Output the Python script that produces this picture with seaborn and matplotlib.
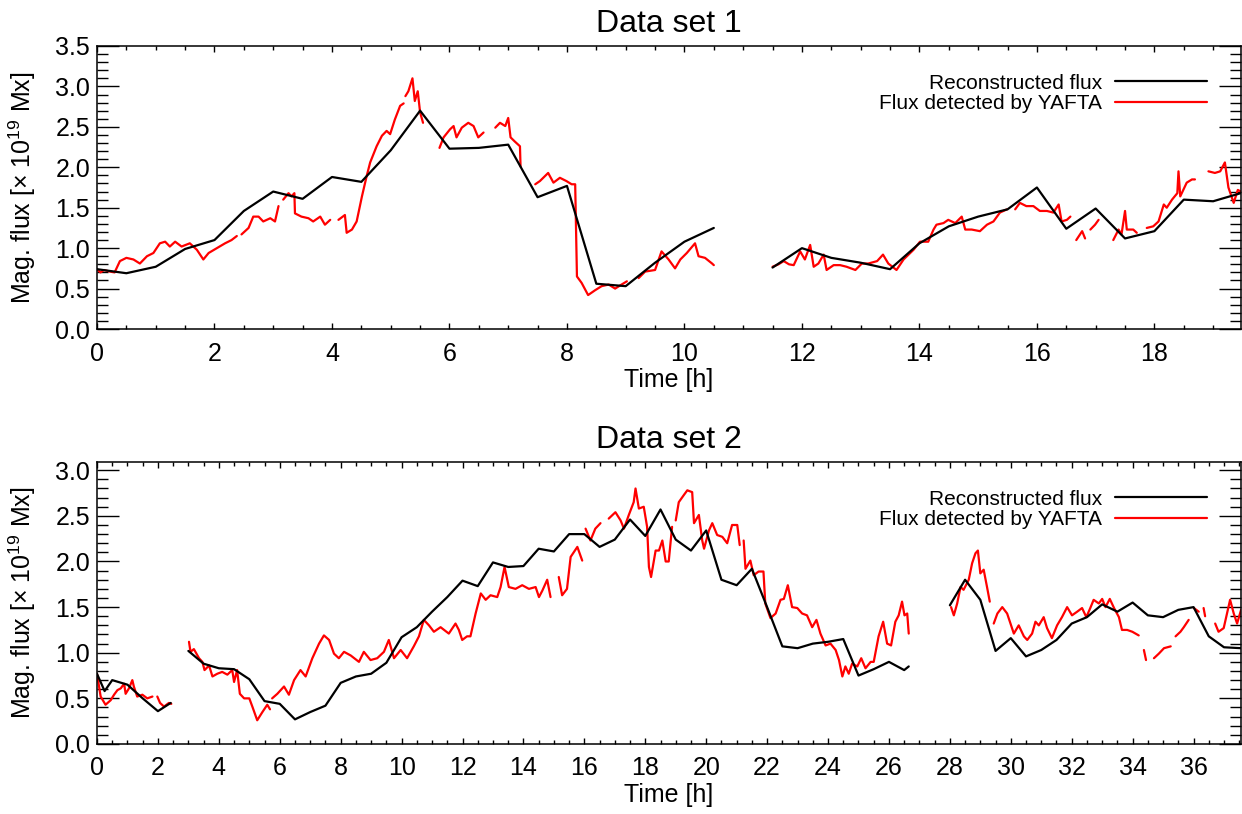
import pandas as pd
import seaborn as sns
import matplotlib.pyplot as plt
from matplotlib.lines import Line2D
from matplotlib.ticker import MultipleLocator

# Data set 1: reconstructed flux (black) and YAFTA flux (red); None marks a gap
top_rec_t = [0.0, 0.5, 1.0, 1.5, 2.0, 2.5, 3.0, 3.5, 4.0, 4.5, 5.0, 5.5, 6.0, 6.5, 7.0, 7.5,
             8.0, 8.5, 9.0, 9.5, 10.0, 10.5, 11.0,
             11.5, 12.0, 12.5, 13.0, 13.5, 14.0, 14.5, 15.0, 15.5, 16.0, 16.5, 17.0, 17.5,
             18.0, 18.5, 19.0, 19.47]
top_rec_v = [0.74, 0.69, 0.77, 0.99, 1.10, 1.46, 1.70, 1.61, 1.88, 1.82, 2.21, 2.70, 2.23, 2.24, 2.28, 1.63,
             1.77, 0.56, 0.53, 0.82, 1.08, 1.25, None,
             0.76, 1.00, 0.88, 0.82, 0.74, 1.06, 1.27, 1.39, 1.48, 1.75, 1.24, 1.49, 1.12,
             1.21, 1.60, 1.58, 1.68]

top_yafta_t = [0.0, 0.06, 0.12, 0.22, 0.30, 0.39, 0.5, 0.62, 0.73, 0.85, 0.96, 1.07, 1.16, 1.24, 1.33,
               1.44, 1.58, 1.70, 1.81, 1.90, 2.04, 2.18, 2.29, 2.38, 2.42,
               2.46, 2.58, 2.66, 2.75, 2.83, 2.95, 3.03, 3.09, 3.13,
               3.17, 3.26, 3.31, 3.36, 3.37, 3.48, 3.60, 3.68, 3.80, 3.88, 3.97, 4.04,
               4.11, 4.22, 4.25, 4.34, 4.42, 4.51, 4.59, 4.65, 4.76, 4.85, 4.93, 4.99, 5.07, 5.16, 5.22, 5.24,
               5.25, 5.30, 5.37, 5.41, 5.46, 5.50, 5.55, 5.7,
               5.83, 5.90, 6.01, 6.07, 6.12, 6.21, 6.32, 6.41, 6.49, 6.58, 6.7,
               6.78, 6.86, 6.95, 7.00, 7.04, 7.11, 7.20, 7.21, 7.3,
               7.46, 7.54, 7.68, 7.77, 7.88, 7.99, 8.08, 8.14, 8.17, 8.25, 8.36, 8.48, 8.59, 8.71,
               8.82, 8.93, 9.02, 9.1,
               9.22, 9.33, 9.50, 9.61, 9.73, 9.84, 9.93, 10.04, 10.18, 10.24, 10.35, 10.47, 10.50, 11.0,
               11.5, 11.6, 11.69, 11.78, 11.86, 11.97, 12.05, 12.14, 12.20, 12.28, 12.37, 12.42, 12.54,
               12.65, 12.76, 12.91, 13.02, 13.13, 13.28, 13.38, 13.47, 13.61, 13.73, 13.90, 14.01,
               14.15, 14.24, 14.29, 14.41, 14.49, 14.61, 14.72, 14.78, 14.89, 15.03, 15.15, 15.26,
               15.37, 15.49, 15.56,
               15.63, 15.71, 15.82, 15.94, 16.05, 16.17, 16.28, 16.37, 16.42, 16.51, 16.57, 16.62,
               16.67, 16.77, 16.82, 16.86,
               16.91, 16.99, 17.05, 17.2,
               17.30, 17.39, 17.44, 17.50, 17.53, 17.64, 17.70, 17.8,
               17.87, 17.98, 18.07, 18.16, 18.21, 18.30, 18.39, 18.41, 18.44, 18.55, 18.64, 18.69, 18.8,
               18.92, 19.03, 19.12, 19.20, 19.26, 19.35, 19.42, 19.47]
top_yafta_v = [0.74, 0.70, 0.73, 0.71, 0.70, 0.84, 0.88, 0.86, 0.81, 0.90, 0.94, 1.06, 1.08, 1.02, 1.08,
               1.02, 1.06, 0.98, 0.86, 0.94, 1.00, 1.06, 1.10, 1.15, None,
               1.17, 1.25, 1.39, 1.39, 1.33, 1.37, 1.33, 1.52, None,
               1.60, 1.68, 1.64, 1.68, 1.43, 1.39, 1.37, 1.33, 1.39, 1.29, 1.35, None,
               1.35, 1.41, 1.19, 1.23, 1.33, 1.64, 1.89, 2.06, 2.26, 2.39, 2.45, 2.41, 2.59, 2.76, 2.79, None,
               2.88, 2.94, 3.10, 2.82, 2.94, 2.68, 2.55, None,
               2.24, 2.37, 2.47, 2.51, 2.37, 2.49, 2.55, 2.51, 2.37, 2.43, None,
               2.49, 2.55, 2.51, 2.61, 2.37, 2.32, 2.26, 2.01, None,
               1.79, 1.83, 1.93, 1.81, 1.87, 1.83, 1.79, 1.79, 0.65, 0.57, 0.42, 0.48, 0.53, 0.55,
               0.50, 0.55, 0.59, None,
               0.63, 0.71, 0.73, 0.96, 0.86, 0.75, 0.86, 0.94, 1.06, 0.90, 0.88, 0.81, 0.79, None,
               0.77, 0.80, 0.84, 0.80, 0.79, 0.96, 0.86, 1.04, 0.77, 0.81, 0.92, 0.73, 0.79,
               0.79, 0.77, 0.73, 0.81, 0.81, 0.84, 0.92, 0.81, 0.73, 0.86, 0.98, 1.08,
               1.08, 1.23, 1.29, 1.31, 1.35, 1.31, 1.39, 1.23, 1.23, 1.21, 1.29, 1.33,
               1.44, 1.48, None,
               1.48, 1.56, 1.52, 1.52, 1.46, 1.46, 1.44, 1.54, 1.33, 1.35, 1.39, None,
               1.10, 1.21, 1.12, None,
               1.23, 1.29, 1.35, None,
               1.10, 1.23, 1.17, 1.46, 1.23, 1.23, 1.19, None,
               1.25, 1.27, 1.33, 1.54, 1.50, 1.60, 1.68, 1.95, 1.64, 1.81, 1.85, 1.85, None,
               1.95, 1.93, 1.95, 2.06, 1.75, 1.56, 1.72, 1.70]

# Data set 2
bot_rec_t = [0.0, 0.25, 0.5, 1.0, 1.5, 2.0, 2.42, 2.7,
             3.0, 3.5, 4.0, 4.5, 5.0, 5.5, 6.0, 6.5, 7.0, 7.5, 8.0, 8.5, 9.0, 9.5, 10.0, 10.5,
             11.0, 11.5, 12.0, 12.5, 13.0, 13.5, 14.0, 14.5, 15.0, 15.5, 16.0, 16.5, 17.0, 17.5,
             18.0, 18.5, 19.0, 19.5, 20.0, 20.5, 21.0, 21.5, 22.0, 22.5, 23.0, 23.5, 24.0, 24.5,
             25.0, 25.5, 26.0, 26.5, 26.65, 27.3,
             28.0, 28.5, 29.0, 29.5, 30.0, 30.5, 31.0, 31.5, 32.0, 32.5, 33.0, 33.5, 34.0, 34.5,
             35.0, 35.5, 36.0, 36.5, 37.0, 37.55]
bot_rec_v = [0.77, 0.58, 0.70, 0.65, 0.50, 0.36, 0.45, None,
             1.02, 0.88, 0.83, 0.82, 0.71, 0.47, 0.44, 0.27, 0.35, 0.42, 0.67, 0.74, 0.77, 0.89, 1.17, 1.28,
             1.45, 1.61, 1.79, 1.73, 1.99, 1.94, 1.95, 2.14, 2.11, 2.30, 2.30, 2.16, 2.24, 2.46,
             2.28, 2.57, 2.24, 2.12, 2.34, 1.80, 1.74, 1.92, 1.50, 1.07, 1.05, 1.10, 1.12, 1.15,
             0.75, 0.82, 0.90, 0.81, 0.85, None,
             1.52, 1.80, 1.58, 1.02, 1.16, 0.96, 1.03, 1.14, 1.32, 1.39, 1.53, 1.45, 1.55, 1.41,
             1.39, 1.47, 1.50, 1.18, 1.06, 1.05]

bot_yafta_t = [0.0, 0.12, 0.28, 0.45, 0.56, 0.67, 0.78, 0.89, 0.94, 1.05, 1.16, 1.21, 1.32, 1.49, 1.65, 1.82, 1.9,
               1.98, 2.07, 2.20, 2.36, 2.44, 2.7,
               3.02, 3.07, 3.18, 3.35, 3.46, 3.53, 3.68, 3.79, 3.95, 4.11, 4.28, 4.44, 4.50, 4.60, 4.69,
               4.83, 5.00, 5.10, 5.26, 5.43, 5.59, 5.68, 5.72,
               5.75, 5.92, 6.14, 6.30, 6.47, 6.68, 6.85, 7.07, 7.29, 7.45, 7.62, 7.78, 7.94, 8.11, 8.33,
               8.60, 8.76, 8.98, 9.20, 9.42, 9.58, 9.75, 9.97, 10.18, 10.40, 10.57, 10.73, 10.90, 11.06,
               11.28, 11.55, 11.77, 11.88, 11.99, 12.15, 12.26, 12.43, 12.60, 12.76, 12.92, 13.14, 13.25,
               13.38, 13.52, 13.74, 13.96, 14.18, 14.40, 14.51, 14.62, 14.78, 14.89, 15.0,
               15.16, 15.27, 15.43, 15.55, 15.77, 15.93, 15.98,
               16.04, 16.20, 16.36, 16.53, 16.65,
               16.80, 17.02, 17.19, 17.30, 17.46, 17.62, 17.68, 17.79, 17.95, 18.06, 18.12, 18.19, 18.34,
               18.45, 18.56, 18.67, 18.77, 18.88, 18.94,
               19.00, 19.10, 19.27, 19.38, 19.54, 19.60, 19.76, 19.87, 19.93, 20.09, 20.20, 20.36, 20.53,
               20.69, 20.85, 21.02, 21.10, 21.16,
               21.23, 21.29, 21.45, 21.56, 21.72, 21.88, 21.94, 22.11, 22.28, 22.44, 22.55, 22.68, 22.82,
               22.99, 23.15, 23.31, 23.48, 23.62, 23.75, 23.92, 24.08, 24.25, 24.36, 24.47, 24.57, 24.68,
               24.79, 24.96, 25.09, 25.23, 25.40, 25.50, 25.66, 25.81, 25.94, 26.07, 26.21, 26.32, 26.43,
               26.51, 26.60, 26.65, 27.3,
               28.04, 28.13, 28.24, 28.35, 28.45, 28.62, 28.73, 28.84, 28.92, 29.00, 29.11, 29.22, 29.31, 29.38,
               29.44, 29.56, 29.72, 29.88, 29.99, 30.10, 30.26, 30.43, 30.54, 30.70, 30.81, 30.92, 31.08,
               31.19, 31.35, 31.52, 31.68, 31.85, 32.01, 32.18, 32.34, 32.48, 32.61, 32.72, 32.89, 33.00,
               33.11, 33.25, 33.39, 33.55, 33.65, 33.82, 33.99, 34.20, 34.28,
               34.37, 34.44, 34.55,
               34.70, 34.86, 35.03, 35.25, 35.33,
               35.41, 35.57, 35.68, 35.84, 35.92,
               36.01, 36.17, 36.25,
               36.33, 36.38, 36.5,
               36.71, 36.82, 36.99, 37.20, 37.32, 37.43, 37.56]
bot_yafta_v = [0.77, 0.52, 0.43, 0.48, 0.54, 0.59, 0.61, 0.66, 0.55, 0.61, 0.70, 0.63, 0.52, 0.54, 0.50, 0.52, None,
               0.52, 0.45, 0.41, 0.45, 0.44, None,
               1.12, 1.01, 1.04, 0.94, 0.90, 0.81, 0.86, 0.74, 0.77, 0.79, 0.76, 0.81, 0.68, 0.81, 0.55,
               0.50, 0.50, 0.41, 0.26, 0.35, 0.43, 0.38, None,
               0.50, 0.55, 0.63, 0.54, 0.70, 0.81, 0.74, 0.94, 1.10, 1.19, 1.14, 0.99, 0.94, 1.01, 0.97,
               0.90, 1.01, 0.92, 0.94, 1.01, 1.14, 0.94, 1.03, 0.94, 1.07, 1.18, 1.36, 1.30, 1.23,
               1.28, 1.21, 1.32, 1.25, 1.14, 1.18, 1.18, 1.43, 1.65, 1.58, 1.63, 1.61, 1.72,
               1.94, 1.72, 1.70, 1.74, 1.70, 1.72, 1.61, 1.68, 1.80, 1.61, None,
               1.83, 1.63, 1.70, 2.05, 2.16, 2.01, None,
               2.36, 2.23, 2.36, 2.42, None,
               2.47, 2.54, 2.45, 2.36, 2.51, 2.65, 2.80, 2.58, 2.60, 2.38, 1.94, 1.83, 2.12,
               2.12, 2.23, 2.00, 2.00, 2.38, None,
               2.45, 2.65, 2.73, 2.78, 2.76, 2.42, 2.51, 2.23, 2.14, 2.34, 2.42, 2.29, 2.27,
               2.20, 2.40, 2.40, 2.18, None,
               2.23, 1.92, 2.01, 1.85, 1.89, 1.89, 1.54, 1.38, 1.43, 1.58, 1.59, 1.74, 1.50,
               1.49, 1.43, 1.41, 1.28, 1.36, 1.21, 1.08, 1.10, 1.03, 0.92, 0.74, 0.85, 0.77,
               0.88, 0.85, 0.94, 0.83, 0.90, 0.90, 1.18, 1.34, 1.10, 1.08, 1.34, 1.41, 1.56,
               1.41, 1.43, 1.21, None,
               1.50, 1.41, 1.54, 1.72, 1.69, 1.80, 1.98, 2.09, 2.12, 1.87, 1.91, 1.72, 1.56, None,
               1.32, 1.43, 1.50, 1.43, 1.32, 1.21, 1.30, 1.18, 1.14, 1.21, 1.34, 1.30, 1.39,
               1.27, 1.16, 1.30, 1.39, 1.50, 1.41, 1.45, 1.49, 1.39, 1.49, 1.58, 1.54, 1.59,
               1.50, 1.59, 1.49, 1.39, 1.25, 1.25, 1.23, 1.19, None,
               1.03, 0.92, None,
               0.94, 0.99, 1.05, 1.07, None,
               1.18, 1.23, 1.28, 1.36, None,
               1.49, 1.45, None,
               1.49, 1.40, None,
               1.32, 1.23, 1.27, 1.58, 1.43, 1.32, 1.47]


def segments(t, v):
    # split a series at its gaps so that each piece is drawn as its own unit
    df = pd.DataFrame({"t": t, "v": pd.to_numeric(pd.Series(v), errors="coerce")})
    df["seg"] = df["v"].isna().cumsum()
    return df.dropna()


sns.set_theme(style="ticks")
plt.rcParams["font.family"] = ["Liberation Sans", "DejaVu Sans"]
plt.rcParams["mathtext.fontset"] = "custom"
plt.rcParams["mathtext.rm"] = "Liberation Sans"
plt.rcParams["mathtext.it"] = "Liberation Sans:italic"
for key in ["text.color", "axes.labelcolor", "xtick.color", "ytick.color", "axes.edgecolor"]:
    plt.rcParams[key] = "black"

fig = plt.figure(figsize=(12.42, 8.14), dpi=100)
ax1 = fig.add_axes([0.0781, 0.5958, 0.9209, 0.3477])
ax2 = fig.add_axes([0.0781, 0.0860, 0.9209, 0.3464])

panels = [
    (ax1, top_rec_t, top_rec_v, top_yafta_t, top_yafta_v, "Data set 1", 19.47, 3.5),
    (ax2, bot_rec_t, bot_rec_v, bot_yafta_t, bot_yafta_v, "Data set 2", 37.55, 3.09),
]

for ax, rt, rv, yt, yv, title, xmax, ymax in panels:
    rec = segments(rt, rv)
    yafta = segments(yt, yv)
    sns.lineplot(data=yafta, x="t", y="v", units="seg", estimator=None, sort=False,
                 color="#ff0000", lw=1.6, ax=ax)
    sns.lineplot(data=rec, x="t", y="v", units="seg", estimator=None, sort=False,
                 color="black", lw=1.6, ax=ax)
    ax.set_xlim(0, xmax)
    ax.set_ylim(0, ymax)
    ax.xaxis.set_major_locator(MultipleLocator(2))
    ax.xaxis.set_minor_locator(MultipleLocator(0.5))
    ax.yaxis.set_major_locator(MultipleLocator(0.5))
    ax.yaxis.set_minor_locator(MultipleLocator(0.1))
    ax.yaxis.set_major_formatter(plt.FuncFormatter(lambda v, p: f"{v:.1f}"))
    ax.tick_params(which="both", direction="in", top=True, right=True, labelsize=18, width=1,
                   color="black", labelcolor="black")
    ax.tick_params(axis="y", which="major", length=16, pad=5)
    ax.tick_params(axis="y", which="minor", length=8)
    ax.tick_params(axis="x", which="major", length=4.5, pad=9)
    ax.tick_params(axis="x", which="minor", length=3)
    for s in ax.spines.values():
        s.set_linewidth(1.1)
        s.set_color("black")
    ax.set_title(title, fontsize=23, pad=10, color="black")
    ax.set_xlabel("Time [h]", fontsize=18, labelpad=2)
    ax.set_ylabel("Mag. flux [\u00d7 10$^{19}$ Mx]", fontsize=18)
    ax.yaxis.set_label_coords(-0.052, 0.5)
    handles = [Line2D([], [], color="black", lw=1.6), Line2D([], [], color="#ff0000", lw=1.6)]
    leg = ax.legend(handles, ["Reconstructed flux", "Flux detected by YAFTA"], loc="upper right",
                    bbox_to_anchor=(0.9706, 0.902), frameon=False, markerfirst=False, fontsize=15,
                    borderpad=0, borderaxespad=0, handlelength=4.4, handletextpad=0.65, labelspacing=0.08)
    for txt in leg.get_texts():
        txt.set_color("black")

fig.savefig("out.png", dpi=100)
